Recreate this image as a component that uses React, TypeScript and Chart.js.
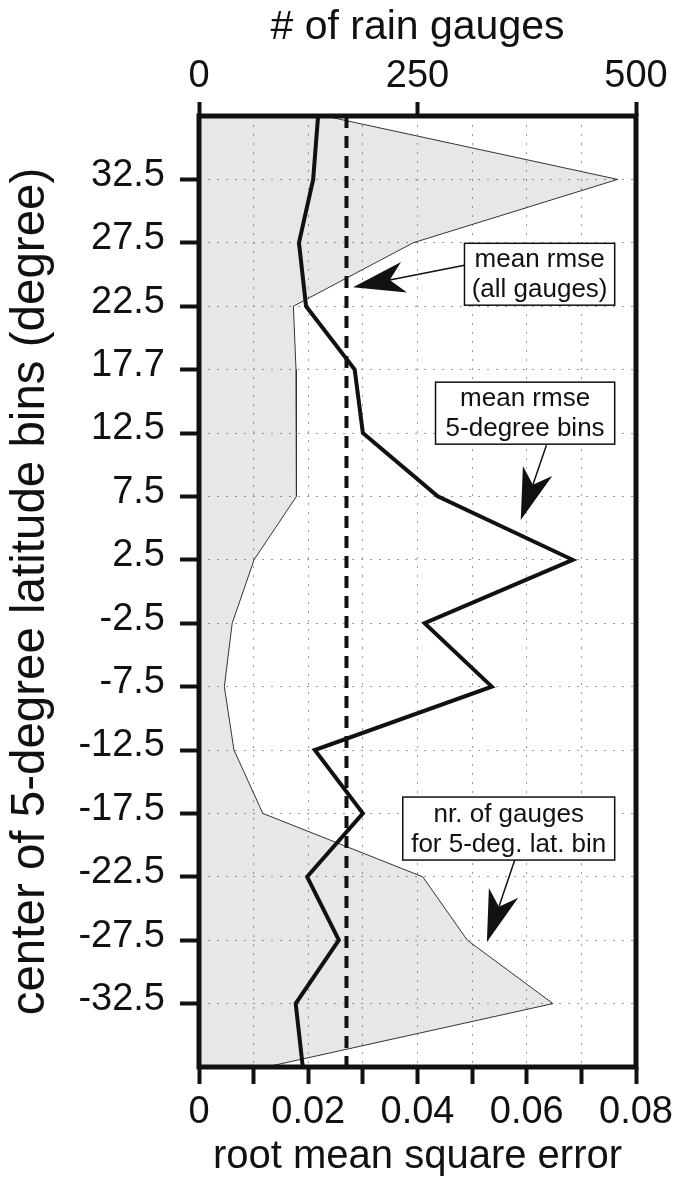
import React, { useEffect, useRef } from 'react';
import { Chart, registerables } from 'chart.js';

Chart.register(...registerables);

const FONT = "'Liberation Sans', Arial, Helvetica, sans-serif";
const INK = '#111';

// Latitude bin centres in degrees, north to south (the ±37.5 entries are the edge bins)
const latCenters = [37.5, 32.5, 27.5, 22.5, 17.5, 12.5, 7.5, 2.5, -2.5, -7.5, -12.5, -17.5, -22.5, -27.5, -32.5, -37.5];

// Labelled latitude ticks and their printed text
const latTickValues = [32.5, 27.5, 22.5, 17.5, 12.5, 7.5, 2.5, -2.5, -7.5, -12.5, -17.5, -22.5, -27.5, -32.5];
const latTickLabels = ['32.5', '27.5', '22.5', '17.7', '12.5', '7.5', '2.5', '-2.5', '-7.5', '-12.5', '-17.5', '-22.5', '-27.5', '-32.5'];

// Mean RMSE per 5-degree latitude bin
const rmseByBin = [0.0218, 0.0209, 0.0183, 0.0196, 0.0285, 0.0300, 0.0437, 0.0684, 0.0413, 0.0536, 0.0212, 0.0300, 0.0198, 0.0256, 0.0177, 0.0190];

// Number of rain gauges per 5-degree latitude bin
const gaugesByBin = [144, 479, 245, 108, 111, 111, 112, 63, 38, 29, 40, 73, 256, 307, 405, 77];

// Mean RMSE over all gauges
const meanRmseAll = 0.027;

// Bottom (RMSE) and top (gauge count) axis tick text
const rmseTickLabels = ['0', '', '0.02', '', '0.04', '', '0.06', '', '0.08'];
const gaugeTickLabels = ['0', '250', '500'];

// Boxed call-outs, placed in data units: box = [x0, x1, latTop, latBottom]
const callouts = [
  { lines: ['mean rmse', '(all gauges)'], box: [0.0486, 0.0761, 27.46, 22.58], tail: [0.0486, 25.73], tip: [0.0282, 23.99] },
  { lines: ['mean rmse', '5-degree bins'], box: [0.0433, 0.0761, 16.51, 11.62], tail: [0.0636, 11.54], tip: [0.0589, 5.63] },
  { lines: ['nr. of gauges', 'for 5-deg. lat. bin'], box: [0.0373, 0.0761, -16.21, -21.18], tail: [0.0578, -21.18], tip: [0.0527, -27.65] },
];

const framePlugin = {
  id: 'frame',
  afterDatasetsDraw(chart: any) {
    const { ctx, chartArea: a } = chart;
    ctx.save();
    ctx.strokeStyle = INK;
    ctx.lineWidth = 5;
    ctx.setLineDash([]);
    ctx.strokeRect(a.left, a.top, a.right - a.left, a.bottom - a.top);
    ctx.restore();
  },
};

const calloutPlugin = {
  id: 'callouts',
  afterDraw(chart: any) {
    const { ctx } = chart;
    const xs = chart.scales.x;
    const ys = chart.scales.y;
    ctx.save();
    ctx.setLineDash([]);
    for (const c of callouts) {
      const tx = xs.getPixelForValue(c.tail[0]);
      const ty = ys.getPixelForValue(c.tail[1]);
      const px = xs.getPixelForValue(c.tip[0]);
      const py = ys.getPixelForValue(c.tip[1]);
      const dx = px - tx;
      const dy = py - ty;
      const len = Math.hypot(dx, dy);
      const ux = dx / len;
      const uy = dy / len;
      const nx = -uy;
      const ny = ux;
      const L = 52;
      const W = 15.5;
      const bx = px - ux * L;
      const by = py - uy * L;
      const mx = px - ux * L * 0.72;
      const my = py - uy * L * 0.72;

      ctx.strokeStyle = INK;
      ctx.fillStyle = INK;
      ctx.lineWidth = 1.5;
      ctx.beginPath();
      ctx.moveTo(tx, ty);
      ctx.lineTo(mx, my);
      ctx.stroke();
      ctx.beginPath();
      ctx.moveTo(px, py);
      ctx.lineTo(bx + nx * W, by + ny * W);
      ctx.lineTo(mx, my);
      ctx.lineTo(bx - nx * W, by - ny * W);
      ctx.closePath();
      ctx.fill();

      const x0 = xs.getPixelForValue(c.box[0]);
      const x1 = xs.getPixelForValue(c.box[1]);
      const y0 = ys.getPixelForValue(c.box[2]);
      const y1 = ys.getPixelForValue(c.box[3]);
      ctx.fillStyle = '#fff';
      ctx.fillRect(x0, y0, x1 - x0, y1 - y0);
      ctx.lineWidth = 1.5;
      ctx.strokeRect(x0, y0, x1 - x0, y1 - y0);

      ctx.fillStyle = INK;
      ctx.font = `26px ${FONT}`;
      ctx.textAlign = 'center';
      ctx.textBaseline = 'middle';
      const cx = (x0 + x1) / 2;
      const cy = (y0 + y1) / 2;
      const lh = 30;
      c.lines.forEach((t, i) => {
        ctx.fillText(t, cx, cy + (i - (c.lines.length - 1) / 2) * lh + 1);
      });
    }
    ctx.restore();
  },
};

const gridDash = [2, 7];
const gridColor = '#9a9a9a';

export default function App() {
  const canvasRef = useRef<HTMLCanvasElement | null>(null);

  useEffect(() => {
    const canvas = canvasRef.current;
    if (!canvas) return;

    const rmsePoints = latCenters.map((lat, i) => ({ x: rmseByBin[i], y: lat }));
    const gaugePoints = latCenters.map((lat, i) => ({ x: gaugesByBin[i], y: lat }));
    const meanPoints = [
      { x: meanRmseAll, y: latCenters[0] },
      { x: meanRmseAll, y: latCenters[latCenters.length - 1] },
    ];

    const chart = new Chart(canvas, {
      type: 'line',
      data: {
        datasets: [
          {
            label: 'mean rmse 5-degree bins',
            data: rmsePoints,
            xAxisID: 'x',
            yAxisID: 'y',
            borderColor: INK,
            borderWidth: 4,
            borderJoinStyle: 'miter',
            pointRadius: 0,
            fill: false,
            tension: 0,
          },
          {
            label: 'mean rmse (all gauges)',
            data: meanPoints,
            xAxisID: 'x',
            yAxisID: 'y',
            borderColor: INK,
            borderWidth: 4,
            borderDash: [12, 8],
            pointRadius: 0,
            fill: false,
          },
          {
            label: 'nr. of gauges for 5-deg. lat. bin',
            data: gaugePoints,
            xAxisID: 'x2',
            yAxisID: 'y',
            borderColor: '#333',
            borderWidth: 1,
            backgroundColor: 'rgba(0,0,0,0.095)',
            pointRadius: 0,
            fill: { value: 0 },
            tension: 0,
          },
        ],
      } as any,
      options: {
        indexAxis: 'y',
        responsive: false,
        devicePixelRatio: 1,
        animation: false,
        layout: { padding: { left: 0, right: 50, top: 0, bottom: 0 } },
        plugins: {
          legend: { display: false },
          tooltip: { enabled: false },
        },
        scales: {
          y: {
            type: 'linear',
            position: 'left',
            min: -37.5,
            max: 37.5,
            afterBuildTicks: (scale: any) => {
              scale.ticks = latTickValues.map((v) => ({ value: v }));
            },
            afterFit: (scale: any) => {
              scale.width = 199;
            },
            ticks: {
              callback: (_v: any, i: number) => latTickLabels[i],
              color: INK,
              font: { family: FONT, size: 38 },
              padding: 15,
              labelOffset: -4,
              autoSkip: false,
            },
            grid: {
              color: gridColor,
              lineWidth: 1,
              tickLength: 19,
              tickWidth: 4,
              tickColor: INK,
              tickBorderDash: [],
            },
            border: { display: false, dash: gridDash },
            title: {
              display: true,
              text: 'center of 5-degree latitude bins (degree)',
              color: INK,
              font: { family: FONT, size: 47.5, lineHeight: 1.2 },
              padding: { top: 2, bottom: 0 },
            },
          },
          x: {
            type: 'linear',
            position: 'bottom',
            min: 0,
            max: 0.08,
            afterBuildTicks: (scale: any) => {
              scale.ticks = rmseTickLabels.map((_t, i) => ({ value: i * 0.01 }));
            },
            afterFit: (scale: any) => {
              scale.height = 123;
            },
            ticks: {
              callback: (_v: any, i: number) => rmseTickLabels[i],
              color: INK,
              font: { family: FONT, size: 38 },
              padding: 6,
              maxRotation: 0,
              autoSkip: false,
            },
            grid: {
              color: gridColor,
              lineWidth: 1,
              tickLength: 17,
              tickWidth: 4,
              tickColor: INK,
              tickBorderDash: [],
            },
            border: { display: false, dash: gridDash },
            title: {
              display: true,
              text: 'root mean square error',
              color: INK,
              font: { family: FONT, size: 40, lineHeight: 1.2 },
              padding: { top: 0, bottom: 9 },
            },
          },
          x2: {
            type: 'linear',
            position: 'top',
            min: 0,
            max: 500,
            afterBuildTicks: (scale: any) => {
              scale.ticks = gaugeTickLabels.map((t) => ({ value: Number(t) }));
            },
            afterFit: (scale: any) => {
              scale.height = 116;
            },
            ticks: {
              callback: (_v: any, i: number) => gaugeTickLabels[i],
              color: INK,
              font: { family: FONT, size: 38 },
              padding: 3,
              maxRotation: 0,
              autoSkip: false,
            },
            grid: {
              drawOnChartArea: false,
              color: INK,
              tickLength: 14,
              tickWidth: 4,
              tickColor: INK,
              tickBorderDash: [],
            },
            border: { display: false },
            title: {
              display: true,
              text: '# of rain gauges',
              color: INK,
              font: { family: FONT, size: 41, lineHeight: 1.2 },
              padding: { top: 3, bottom: 0 },
            },
          },
        },
      } as any,
      plugins: [framePlugin, calloutPlugin],
    });

    return () => chart.destroy();
  }, []);

  return (
    <div style={{ position: 'absolute', left: 0, top: 0, width: 686, height: 1190, background: '#fff' }}>
      <canvas ref={canvasRef} width={686} height={1190} style={{ display: 'block' }} />
    </div>
  );
}
